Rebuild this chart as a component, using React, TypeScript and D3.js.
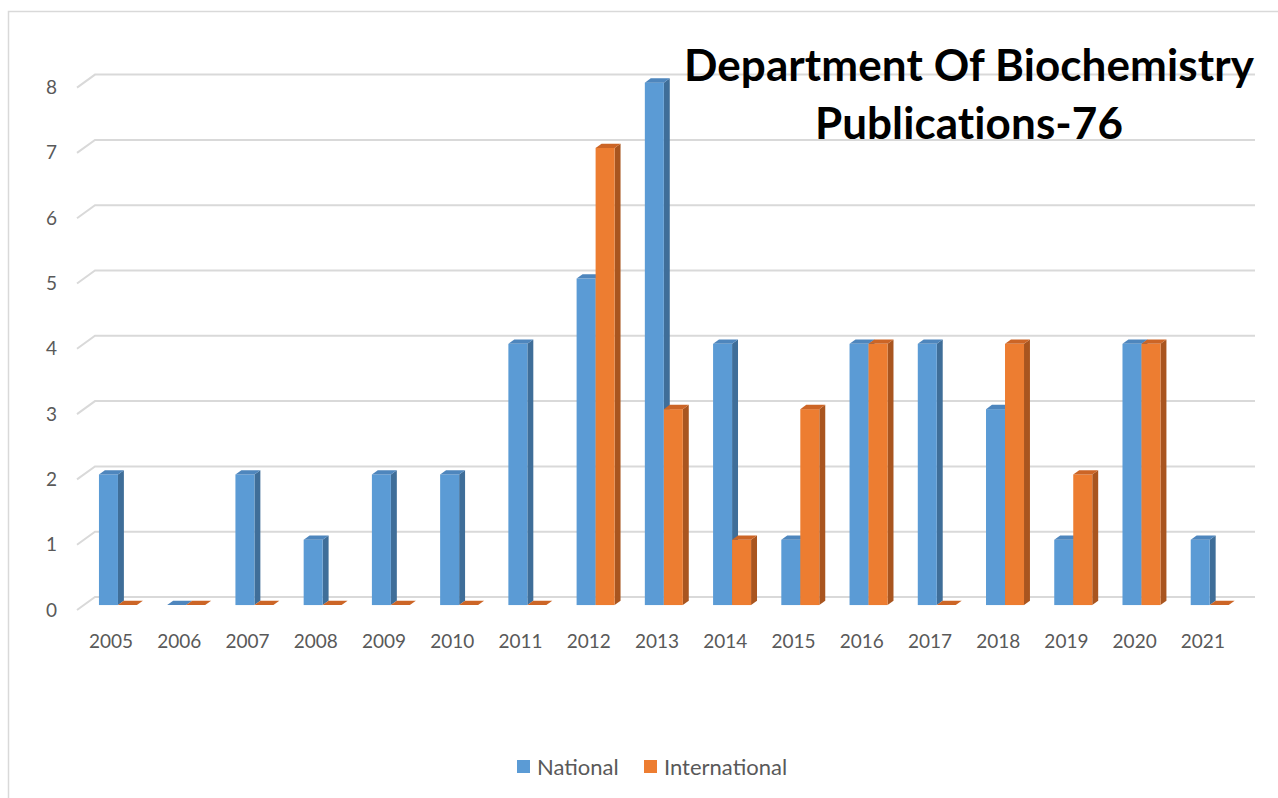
import React from "react";
import * as d3 from "d3";

const years = ["2005","2006","2007","2008","2009","2010","2011","2012","2013","2014","2015","2016","2017","2018","2019","2020","2021"];
const national = [2,0,2,1,2,2,4,5,8,4,1,4,4,3,1,4,1];
const international = [0,0,0,0,0,0,0,7,3,1,3,4,0,4,2,4,0];
const yTicks = [0,1,2,3,4,5,6,7,8];
const seriesNames = ["National", "International"];
const titleLines = ["Department Of Biochemistry", "Publications-76"];

const W = 1278, H = 798;
const DX = 18, DY = -13; // depth vector
const F0 = 0.38, F1 = 0.71; // bar depth range
const BAR_W = 19;

const x = d3.scaleBand<string>().domain(years).range([77, 1237]).paddingInner(0).paddingOuter(0);
const y = d3.scaleLinear().domain([0, 8]).range([610, 87.6]);

const colors = [
  { front: "#5B9BD5", side: "#3F6E99", top: "#4E86BD" },
  { front: "#ED7D31", side: "#A9551F", top: "#CC6526" },
];

function Bar({ x0, v, c }: { x0: number; v: number; c: { front: string; side: string; top: string } }) {
  const fx = x0 + DX * F0;
  const yb = y(0) + DY * F0;
  const yt = y(v) + DY * F0;
  const ddx = DX * (F1 - F0), ddy = DY * (F1 - F0);
  const top = `M${fx},${yt}L${fx + BAR_W},${yt}L${fx + BAR_W + ddx},${yt + ddy}L${fx + ddx},${yt + ddy}Z`;
  const side = `M${fx + BAR_W},${yt}L${fx + BAR_W + ddx},${yt + ddy}L${fx + BAR_W + ddx},${yb + ddy}L${fx + BAR_W},${yb}Z`;
  return (
    <g>
      {v > 0 && <path d={side} fill={c.side} />}
      {v > 0 && <rect x={fx} y={yt} width={BAR_W} height={yb - yt} fill={c.front} />}
      <path d={top} fill={c.top} />
    </g>
  );
}

export default function App() {
  const font = "Lato, 'Open Sans', sans-serif";
  return (
    <svg width={W} height={H} style={{ position: "fixed", left: 0, top: 0, background: "#fff" }} fontFamily={font}>
      <rect x={0} y={0} width={W} height={H} fill="#fff" />
      <rect x={8.5} y={11.5} width={1300} height={820} fill="none" stroke="#D9D9D9" strokeWidth={1.5} />
      {/* gridlines */}
      {yTicks.map((t) => (
        <path key={t} d={`M${77},${y(t)}L${77 + DX},${y(t) + DY}L${1255},${y(t) + DY}`} fill="none" stroke="#D9D9D9" strokeWidth={2} />
      ))}
      {/* y labels */}
      {yTicks.map((t) => (
        <text key={t} x={57} y={y(t) + 6.5} textAnchor="end" fontSize={19} fill="#595959">{t}</text>
      ))}
      {/* bars */}
      {years.map((yr, i) => {
        const cx = (x(yr) as number) + x.bandwidth() / 2;
        return (
          <g key={yr}>
            <Bar x0={cx - BAR_W} v={national[i]} c={colors[0]} />
            <Bar x0={cx} v={international[i]} c={colors[1]} />
          </g>
        );
      })}
      {/* x labels */}
      {years.map((yr) => (
        <text key={yr} x={(x(yr) as number) + x.bandwidth() / 2} y={648} textAnchor="middle" fontSize={19} fill="#595959">{yr}</text>
      ))}
      {/* title */}
      {titleLines.map((l, i) => (
        <text key={l} x={969} y={81 + i * 58} textAnchor="middle" fontSize={44} fontWeight="bold" fill="#000" letterSpacing={0.1}>{l}</text>
      ))}
      {/* legend */}
      {seriesNames.map((n, i) => {
        const lx = i === 0 ? 517 : 644;
        return (
          <g key={n}>
            <rect x={lx} y={760} width={13} height={13} fill={colors[i].front} />
            <text x={lx + 20} y={775} fontSize={22} fill="#595959">{n}</text>
          </g>
        );
      })}
    </svg>
  );
}
